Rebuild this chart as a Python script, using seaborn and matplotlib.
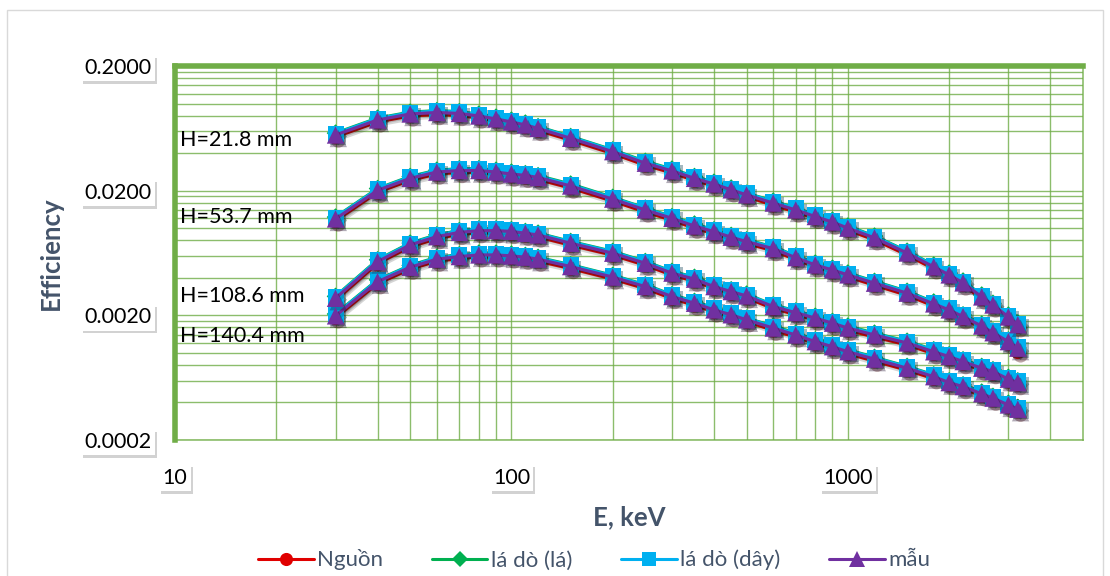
import matplotlib
matplotlib.use("Agg")
import numpy as np
import pandas as pd
import matplotlib.pyplot as plt
import matplotlib.patheffects as pe
from matplotlib.lines import Line2D
from matplotlib.patches import Rectangle
from matplotlib.ticker import FixedLocator, FixedFormatter, NullFormatter
import seaborn as sns

# ---------------- data ----------------
energy = [30, 40, 50, 60, 70, 80, 90, 100, 110, 120, 150, 200, 250, 300, 350, 400,
          450, 500, 600, 700, 800, 900, 1000, 1200, 1500, 1800, 2000, 2200, 2500, 2700,
          3000, 3200]

series_names = ["Nguồn", "lá dò (lá)", "lá dò (dây)", "mẫu"]
heights = ["H=21.8 mm", "H=53.7 mm", "H=108.6 mm", "H=140.4 mm"]

# H = 21.8 mm
nguon_h1 = [0.0539, 0.0712, 0.0795, 0.0817, 0.0803, 0.0766, 0.0726, 0.0686, 0.0649, 0.0609, 0.0508, 0.0397, 0.0320, 0.0278, 0.0242, 0.0218,
            0.0196, 0.0179, 0.0153, 0.0135, 0.0120, 0.0108, 0.00965, 0.00807, 0.00610, 0.00472, 0.00407, 0.00351, 0.00271, 0.00234, 0.00187, 0.00162]
la_h1 = [0.0579, 0.0764, 0.0853, 0.0877, 0.0861, 0.0822, 0.0778, 0.0736, 0.0697, 0.0653, 0.0544, 0.0425, 0.0344, 0.0298, 0.0260, 0.0234,
         0.0210, 0.0191, 0.0165, 0.0145, 0.0128, 0.0116, 0.0104, 0.00865, 0.00654, 0.00506, 0.00437, 0.00377, 0.00291, 0.00250, 0.00201, 0.00174]
day_h1 = [0.0573, 0.0756, 0.0845, 0.0868, 0.0853, 0.0814, 0.0771, 0.0729, 0.0690, 0.0647, 0.0539, 0.0421, 0.0340, 0.0295, 0.0257, 0.0232,
          0.0208, 0.0190, 0.0163, 0.0144, 0.0127, 0.0115, 0.0103, 0.00857, 0.00648, 0.00501, 0.00433, 0.00373, 0.00288, 0.00248, 0.00199, 0.00172]
mau_h1 = [0.0559, 0.0738, 0.0824, 0.0847, 0.0832, 0.0794, 0.0752, 0.0711, 0.0673, 0.0631, 0.0526, 0.0411, 0.0332, 0.0288, 0.0251, 0.0226,
          0.0203, 0.0185, 0.0159, 0.0140, 0.0124, 0.0112, 0.0100, 0.00836, 0.00632, 0.00489, 0.00422, 0.00364, 0.00281, 0.00242, 0.00194, 0.00168]

# H = 53.7 mm
nguon_h2 = [0.01144, 0.0194, 0.0242, 0.0272, 0.0280, 0.0280, 0.0272, 0.0262, 0.0256, 0.0246, 0.0210, 0.0165, 0.0135, 0.0116, 0.0100, 0.00905,
            0.00816, 0.00753, 0.00661, 0.00560, 0.00489, 0.00446, 0.00407, 0.00349, 0.00290, 0.00238, 0.00213, 0.00188, 0.00158, 0.00140, 0.00119, 0.00102]
la_h2 = [0.01228, 0.0208, 0.0260, 0.0292, 0.0300, 0.0300, 0.0292, 0.0282, 0.0274, 0.0264, 0.0226, 0.0177, 0.0145, 0.0124, 0.0108, 0.00971,
         0.00876, 0.00807, 0.00709, 0.00600, 0.00525, 0.00478, 0.00437, 0.00375, 0.00312, 0.00256, 0.00229, 0.00202, 0.00170, 0.00150, 0.00127, 0.00110]
day_h2 = [0.01216, 0.0206, 0.0257, 0.0289, 0.0297, 0.0297, 0.0289, 0.0279, 0.0272, 0.0261, 0.0223, 0.0175, 0.0144, 0.0123, 0.0107, 0.00961,
          0.00867, 0.00800, 0.00702, 0.00595, 0.00520, 0.00474, 0.00433, 0.00371, 0.00309, 0.00253, 0.00227, 0.00200, 0.00168, 0.00149, 0.00126, 0.00112]
mau_h2 = [0.01186, 0.0201, 0.0251, 0.0282, 0.0290, 0.0290, 0.0282, 0.0272, 0.0265, 0.0255, 0.0218, 0.0171, 0.0140, 0.0120, 0.0104, 0.00938,
          0.00846, 0.00780, 0.00685, 0.00580, 0.00507, 0.00462, 0.00422, 0.00362, 0.00301, 0.00247, 0.00221, 0.00195, 0.00164, 0.00145, 0.00123, 0.00109]

# H = 108.6 mm
nguon_h3 = [0.00264, 0.00520, 0.00708, 0.00825, 0.00893, 0.00922, 0.00922, 0.00909, 0.00878, 0.00851, 0.00731, 0.00608, 0.00505, 0.00421, 0.00376, 0.00328,
            0.00299, 0.00276, 0.00227, 0.00203, 0.00183, 0.00167, 0.00152, 0.00134, 0.00116, 0.000984, 0.000900, 0.000821, 0.000727, 0.000683, 0.000593, 0.000557]
la_h3 = [0.00284, 0.00558, 0.00760, 0.00885, 0.00957, 0.00988, 0.00988, 0.00975, 0.00942, 0.00913, 0.00783, 0.00652, 0.00541, 0.00451, 0.00404, 0.00352,
         0.00321, 0.00296, 0.00243, 0.00217, 0.00197, 0.00179, 0.00164, 0.00144, 0.00124, 0.00106, 0.000966, 0.000881, 0.000779, 0.000733, 0.000637, 0.000597]
day_h3 = [0.00281, 0.00552, 0.00752, 0.00876, 0.00948, 0.00979, 0.00979, 0.00966, 0.00933, 0.00904, 0.00776, 0.00646, 0.00536, 0.00447, 0.00400, 0.00349,
          0.00318, 0.00293, 0.00241, 0.00215, 0.00195, 0.00177, 0.00162, 0.00142, 0.00123, 0.00105, 0.000956, 0.000872, 0.000772, 0.000726, 0.000630, 0.000591]
mau_h3 = [0.00274, 0.00539, 0.00734, 0.00855, 0.00925, 0.00955, 0.00955, 0.00942, 0.00910, 0.00882, 0.00757, 0.00630, 0.00523, 0.00436, 0.00390, 0.00340,
          0.00310, 0.00286, 0.00235, 0.00210, 0.00190, 0.00173, 0.00158, 0.00139, 0.00120, 0.00102, 0.000933, 0.000851, 0.000753, 0.000708, 0.000615, 0.000577]

# H = 140.4 mm
nguon_h4 = [0.00191, 0.00359, 0.00469, 0.00544, 0.00571, 0.00589, 0.00589, 0.00578, 0.00565, 0.00544, 0.00475, 0.00391, 0.00328, 0.00273, 0.00241, 0.00213,
            0.00195, 0.00178, 0.00152, 0.00134, 0.00119, 0.00108, 0.000984, 0.000859, 0.000727, 0.000621, 0.000557, 0.000517, 0.000453, 0.000418, 0.000369, 0.000341]
la_h4 = [0.00205, 0.00385, 0.00503, 0.00584, 0.00613, 0.00631, 0.00631, 0.00620, 0.00605, 0.00584, 0.00509, 0.00419, 0.00352, 0.00293, 0.00259, 0.00229,
         0.00209, 0.00190, 0.00164, 0.00144, 0.00127, 0.00116, 0.00106, 0.000921, 0.000779, 0.000667, 0.000597, 0.000555, 0.000485, 0.000448, 0.000395, 0.000365]
day_h4 = [0.00203, 0.00381, 0.00498, 0.00578, 0.00607, 0.00625, 0.00625, 0.00614, 0.00600, 0.00578, 0.00504, 0.00415, 0.00349, 0.00290, 0.00256, 0.00227,
          0.00207, 0.00189, 0.00162, 0.00142, 0.00126, 0.00115, 0.00105, 0.000912, 0.000772, 0.000660, 0.000591, 0.000549, 0.000481, 0.000444, 0.000392, 0.000362]
mau_h4 = [0.00198, 0.00372, 0.00486, 0.00564, 0.00592, 0.00610, 0.00610, 0.00599, 0.00585, 0.00564, 0.00492, 0.00405, 0.00340, 0.00283, 0.00250, 0.00221,
          0.00202, 0.00184, 0.00158, 0.00139, 0.00123, 0.00112, 0.00102, 0.000890, 0.000753, 0.000644, 0.000577, 0.000536, 0.000469, 0.000433, 0.000382, 0.000353]

x_ticks = [10, 100, 1000]
x_tick_labels = ["10", "100", "1000"]
y_ticks = [0.0002, 0.002, 0.02, 0.2]
y_tick_labels = ["0.0002", "0.0020", "0.0200", "0.2000"]

table = {
    "Nguồn": [nguon_h1, nguon_h2, nguon_h3, nguon_h4],
    "lá dò (lá)": [la_h1, la_h2, la_h3, la_h4],
    "lá dò (dây)": [day_h1, day_h2, day_h3, day_h4],
    "mẫu": [mau_h1, mau_h2, mau_h3, mau_h4],
}
rows = []
for s in series_names:
    for h, vals in zip(heights, table[s]):
        for e, v in zip(energy, vals):
            rows.append((s, h, e, v))
df = pd.DataFrame(rows, columns=["series", "H", "energy", "eff"])

# ---------------- style ----------------
sns.set_theme(style="white")
plt.rcParams["font.family"] = ["Lato", "DejaVu Sans"]

GREEN = "#70AD47"
TEXTC = "#44546A"
styles = {
    "Nguồn": ("#E00000", "o", 10.5),
    "lá dò (lá)": ("#00B050", "D", 9),
    "lá dò (dây)": ("#00B0F0", "s", 11.5),
    "mẫu": ("#7030A0", "^", 12.5),
}

fig = plt.figure(figsize=(11.1, 5.76), dpi=100)
ax = fig.add_axes([175 / 1110, 136 / 576, 908 / 1110, 374 / 576])

z = 3
for s in series_names:
    c, m, ms = styles[s]
    for h in heights:
        d = df[(df["series"] == s) & (df["H"] == h)]
        sns.lineplot(data=d, x="energy", y="eff", color=c, lw=2.3, ax=ax,
                     estimator=None, sort=False, legend=False)
        ln = ax.lines[-1]
        ln.set_zorder(z)
        ln.set_path_effects([pe.SimpleLineShadow(offset=(1.5, -2), alpha=0.18), pe.Normal()])
        sns.scatterplot(data=d, x="energy", y="eff", color=c, marker=m, s=ms ** 2,
                        linewidth=0, ax=ax, legend=False)
        col = ax.collections[-1]
        col.set_zorder(z + 0.5)
        col.set_path_effects([pe.SimplePatchShadow(offset=(2, -2.5), alpha=0.35), pe.Normal()])
    z += 1

ax.set_xscale("log")
ax.set_yscale("log")
ax.set_xlim(10, 5000)
ax.set_ylim(0.0002, 0.2)

ax.xaxis.set_major_locator(FixedLocator(x_ticks))
ax.xaxis.set_major_formatter(FixedFormatter(x_tick_labels))
ax.xaxis.set_minor_locator(FixedLocator([k * 10 ** n for n in (1, 2, 3) for k in range(2, 10) if k * 10 ** n < 5000]))
ax.xaxis.set_minor_formatter(NullFormatter())
ax.yaxis.set_major_locator(FixedLocator(y_ticks))
ax.yaxis.set_major_formatter(FixedFormatter(y_tick_labels))
ax.yaxis.set_minor_locator(FixedLocator([k * b for b in (2e-4, 2e-3, 2e-2) for k in range(2, 10)]))
ax.yaxis.set_minor_formatter(NullFormatter())

ax.grid(which="both", color=GREEN, lw=1.0, alpha=0.8)
ax.set_axisbelow(True)
ax.tick_params(which="both", length=0)
ax.tick_params(axis="y", pad=17, labelsize=15.5, labelcolor="black")
ax.tick_params(axis="x", pad=20, labelsize=15.5, labelcolor="black")

for side in ("left", "top"):
    ax.spines[side].set_color(GREEN)
    ax.spines[side].set_linewidth(4)
for side in ("bottom", "right"):
    ax.spines[side].set_color(GREEN)
    ax.spines[side].set_linewidth(1.2)
    ax.spines[side].set_alpha(0.8)

ax.set_xlabel("E, keV", fontsize=18.5, fontweight="bold", color=TEXTC)
ax.set_ylabel("Efficiency", fontsize=18.5, fontweight="bold", color=TEXTC)
ax.xaxis.set_label_coords(0.5, -0.175)
ax.yaxis.set_label_coords(-0.124, 0.5)

label_pos = [0.802, 0.596, 0.385, 0.278]
for h, yp in zip(heights, label_pos):
    ax.text(0.006, yp, h, transform=ax.transAxes, fontsize=15.5, color="black",
            va="center", ha="left", zorder=20)

handles = []
for s in series_names:
    c, m, ms = styles[s]
    handles.append(Line2D([], [], color=c, marker=m, markersize=ms * 0.9, lw=2.2,
                          markeredgewidth=0))
leg = fig.legend(handles, series_names, loc="center", bbox_to_anchor=(594 / 1110, 16 / 576),
                 ncol=4, frameon=False, fontsize=16, handlelength=2.5, columnspacing=2.2,
                 handletextpad=0.15)
for t in leg.get_texts():
    t.set_color(TEXTC)

fig.patches.append(Rectangle((7 / 1110, -0.01), (1103 - 7) / 1110, (576 - 10) / 576 + 0.01,
                             transform=fig.transFigure, fill=False, ec="#D9D9D9", lw=1))

fig.canvas.draw()
for lab in ax.get_xticklabels() + ax.get_yticklabels():
    lab.set_bbox(dict(boxstyle="square,pad=0.15", fc="white", ec="none"))
    lab.get_bbox_patch().set_path_effects([pe.SimplePatchShadow(offset=(1.5, -2), alpha=0.25), pe.Normal()])

fig.savefig("out.png", dpi=100, facecolor="white")
